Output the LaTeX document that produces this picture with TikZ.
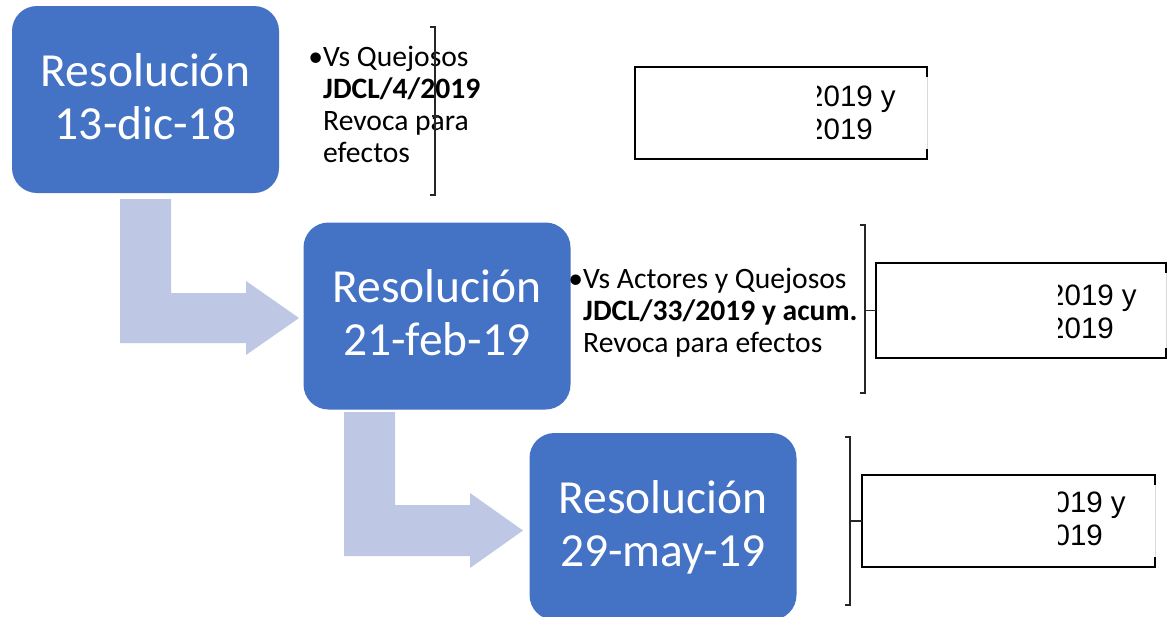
\documentclass[tikz,border=0pt]{standalone}
\usepackage{fontspec}
\setmainfont{Carlito}
\newfontfamily\boxfont{Liberation Sans}
\usepackage{tikz}
\usetikzlibrary{positioning}
\definecolor{resblue}{HTML}{4472C4}
\definecolor{bendblue}{HTML}{BEC8E4}
\tikzset{
  % blue rounded boxes with the dates
  resbox/.style={fill=resblue, text=white, rounded corners=25pt, inner sep=0pt,
    minimum width=267pt, minimum height=187pt, align=center,
    font=\fontsize{47.5}{53}\selectfont},
  bendarrow/.style={fill=bendblue, draw=none},
  sidetext/.style={anchor=north west, align=left, inner sep=0pt,
    font=\fontsize{29.6}{32}\selectfont},
  datebox/.style={fill=white, draw=none, inner sep=0pt},
  datetext/.style={inner sep=0pt, font=\boxfont\fontsize{29.5}{33}\selectfont},
  boxline/.style={black, line width=2pt},
  bracket/.style={black!85, line width=1.2pt},
}
\begin{document}
\begin{tikzpicture}[x=1pt,y=-1pt]
    \path[use as bounding box, fill=white] (0,0) rectangle (1174,616);

    % bent arrows between the resolutions
    \path[bendarrow] (120,199) -- (171,199) -- (171,293) -- (246,293) -- (246,281)
        -- (299,318) -- (246,355) -- (246,343) -- (120,343) -- cycle;
    \path[bendarrow] (344,412) -- (395,412) -- (395,505) -- (470,505) -- (470,493)
        -- (523,530.5) -- (470,568) -- (470,556) -- (344,556) -- cycle;

    \node[resbox] (res1) at (145.5,99.5) {\rule{0pt}{36pt}Resolución\\13-dic-18\rule[-10pt]{0pt}{10pt}};
    \node[resbox] (res2) at (437,316) {\rule{0pt}{36pt}Resolución\\21-feb-19\rule[-10pt]{0pt}{10pt}};
    \node[resbox] (res3) at (663,526.5) {\rule{0pt}{36pt}Resolución\\29-may-19\rule[-10pt]{0pt}{10pt}};

    \node[sidetext] (side1) at (323,44.5) {\rule{0pt}{22pt}\llap{•}Vs Quejosos\\\textbf{JDCL/4/2019}\\Revoca para\\efectos};
    \node[sidetext] (side2) at (583,266.5) {\rule{0pt}{22pt}\llap{•}Vs Actores y Quejosos\\\textbf{JDCL/33/2019 y acum.}\\Revoca para efectos};

    % white boxes, text cut off on the left
    \foreach \n/\cx/\cy/\w/\h/\tx/\cl/\ba in {1/781/113/292/92/807/817/106,
        2/1021/310.5/290/95/1048/1058/305, 3/1008.5/521/293/92/1037/1058/512}
    {
    \node[datebox, minimum width=\w pt, minimum height=\h pt] (wbox\n) at (\cx,\cy) {};
    \begin{scope}
        \clip (\cl,{\cy-\h/2}) rectangle ({\cx+\w/2},{\cy+\h/2});
        \node[datetext, anchor=base west] (t\n-a) at (\tx,\ba) {2019 y};
        \node[datetext, anchor=base west] (t\n-b) at (\tx,\ba+33) {2019};
    \end{scope}
    \draw[black!15, line width=1pt] (wbox\n.north east) -- (wbox\n.south east);
    \draw[boxline] ([yshift=-10pt]wbox\n.north east) -- (wbox\n.north east) -- (wbox\n.north west)
        -- (wbox\n.south west) -- (wbox\n.south east) -- ([yshift=10pt]wbox\n.south east);
    }

    % brackets
    \draw[bracket] (430,27) -- (435,27) -- (435,195) -- (430,195);
    \draw[bracket] (432,116) -- (439,116);
    \draw[bracket] (860,225) -- (865,225) -- (865,393) -- (860,393);
    \coordinate (br2) at (865,310.5);
    \draw[bracket] (br2) -- (wbox2.west);
    \draw[bracket] (845,437) -- (850,437) -- (850,605) -- (845,605);
    \coordinate (br3) at (850,521);
    \draw[bracket] (br3) -- (wbox3.west);
\end{tikzpicture}
\end{document}
